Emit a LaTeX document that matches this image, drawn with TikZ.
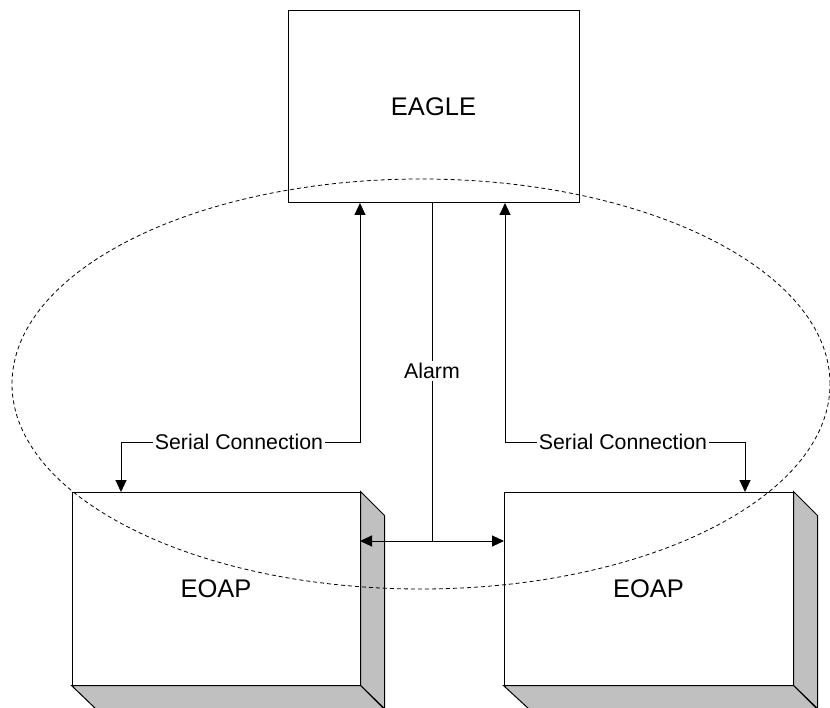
\documentclass[tikz,border=0pt]{standalone}
\usepackage{fontspec}
\setmainfont{Liberation Sans}
\usetikzlibrary{arrows.meta}
\definecolor{sidegray}{HTML}{C0C0C0}
\tikzset{
  bigbox/.style={draw=black, line width=1pt, fill=white, inner sep=0pt,
    font=\fontsize{25.5}{30}\selectfont},
  lbl/.style={fill=white, inner sep=2pt, font=\fontsize{21.3}{25}\selectfont},
  side/.style={draw=black, line width=1pt, fill=sidegray, line join=miter},
  conn/.style={draw=black, line width=1pt},
  tip/.style={-{Triangle[length=12pt,width=11pt]}},
  dtip/.style={{Triangle[length=12pt,width=11pt]}-{Triangle[length=12pt,width=11pt]}},
  zone/.style={draw=black, line width=0.8pt, dash pattern=on 4pt off 3pt}
}
\begin{document}
\begin{tikzpicture}[x=1pt,y=-1pt]
\useasboundingbox (0,0) rectangle (830,708);
\clip (0,0) rectangle (830,708);

% EAGLE
\node[bigbox, minimum width=291pt, minimum height=192pt] (eagle) at (433.5,107) {EAGLE};

% EOAP boxes with 3D sides
\node[bigbox, minimum width=288pt, minimum height=193pt] (eoapL) at (216,588.5) {EOAP};
\node[bigbox, minimum width=289pt, minimum height=193pt] (eoapR) at (648.5,588.5) {EOAP};
\foreach \b in {eoapL,eoapR}{
  \path[side] (\b.north east) -- ++(24,24) -- ++(0,193) -- (\b.south east) -- cycle;
  \path[side] (\b.south west) -- (\b.south east) -- ++(24,24) -- ++(-288,0) -- cycle;
}

% coordinates
\coordinate (eL) at (360,203);
\coordinate (eR) at (505,203);
\coordinate (aT) at (432,203);
\coordinate (aJ) at (432,541);
\coordinate (aL) at (360,541);
\coordinate (aR) at (504,541);
\coordinate (tL) at (121,492);
\coordinate (tR) at (745,492);

% Alarm
\draw[conn] (aT) -- (aJ);
\draw[conn, dtip] (aL) -- (aR);
\node[lbl] (alarm) at (432,371) {Alarm};

% Serial connections
\node[lbl] (serL) at (239,442) {Serial Connection};
\node[lbl] (serR) at (623,442) {Serial Connection};
\draw[conn, tip] (serL.east) -| (eL);
\draw[conn, tip] (serL.west) -| (tL);
\draw[conn, tip] (serR.west) -| (eR);
\draw[conn, tip] (serR.east) -| (tR);

% dashed zone
\path[zone] (421,384) ellipse [x radius=409pt, y radius=205pt];
\end{tikzpicture}
\end{document}
